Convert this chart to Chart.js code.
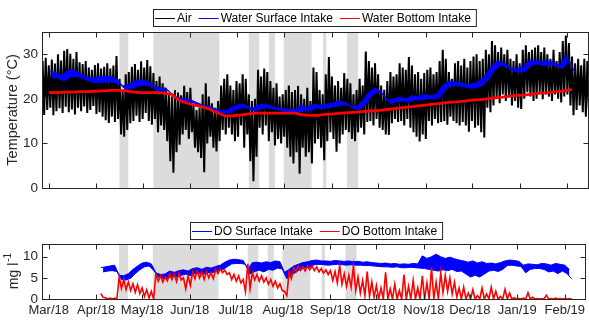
<!DOCTYPE html>
<html>
<head>
<meta charset="utf-8">
<script src="https://cdn.jsdelivr.net/npm/chart.js@4/dist/chart.umd.min.js"></script>
<style>
body { margin: 0; background: #fff; overflow: hidden; }
#wrap { position: relative; width: 589px; height: 320px; }
canvas { position: absolute; left: 0; }
</style>
</head>
<body>
<div id="wrap">
  <canvas id="tempChart" width="589" height="200" style="top:0"></canvas>
  <canvas id="doChart" width="589" height="120" style="top:200px"></canvas>
</div>
<script>
// x values are days since 1 Mar 2018
var monthDays = [0, 31, 61, 92, 122, 153, 184, 214, 245, 275, 306, 337];
var monthLabels = ["Mar/18", "Apr/18", "May/18", "Jun/18", "Jul/18", "Aug/18", "Sep/18", "Oct/18", "Nov/18", "Dec/18", "Jan/19", "Feb/19"];
var tempTicks = [0, 10, 20, 30];
var doTicks = [0, 5, 10];

// grey periods (day ranges)
var shadedDays = [[45.9, 51.7], [68, 110.9], [130, 136.8], [143, 147], [152.7, 170.8], [178.2, 180.4], [193.8, 201]];

// air temperature, daily highs / lows per 2-day bin starting day -4
var airStart = -4, airStep = 2;
var airHi = [
    28.5, 29.2, 27.5, 28.8, 27.9, 30.0, 28.6, 30.8, 31.2, 30.1,
    29.0, 30.5, 28.2, 27.8, 28.5, 27.0, 26.5, 27.6, 28.0, 26.8,
    27.2, 28.0, 26.8, 27.5, 29.6, 24.5, 22.0, 25.5, 26.0, 27.2,
    27.8, 26.5, 28.4, 27.0, 28.7, 27.3, 25.8, 24.0, 25.0, 23.5,
    22.5, 21.0, 20.5, 22.0, 21.4, 20.8, 22.9, 21.5, 22.5, 18.5,
    17.5, 18.0, 21.0, 23.5, 20.5, 19.0, 18.0, 19.5, 23.0, 24.5,
    25.5, 23.0, 22.0, 24.0, 23.5, 25.5, 24.5, 21.0, 19.5, 20.0,
    26.5, 25.0, 26.8, 26.0, 24.0, 22.5, 23.5, 20.5, 21.0, 22.0,
    23.0, 21.5, 22.0, 22.9, 21.0, 20.0, 22.5, 19.5, 27.0, 26.0,
    22.0, 21.0, 25.5, 29.4, 25.0, 23.0, 24.0, 22.5, 25.8, 24.5,
    23.5, 21.0, 22.0, 24.5, 23.0, 30.6, 28.5, 27.0, 28.0, 25.5,
    23.0, 22.0, 24.0, 26.0, 25.0, 25.5, 28.0, 27.0, 26.5, 29.4,
    27.5, 25.5, 26.0, 24.5, 25.8, 26.5, 27.0, 25.5, 26.0, 28.5,
    31.0, 29.0, 26.0, 24.5, 28.0, 28.5, 27.5, 29.0, 27.0, 28.5,
    29.5, 30.0, 28.5, 29.0, 31.0, 30.0, 33.0, 32.0, 30.5, 31.5,
    30.0, 31.0, 29.0, 28.5, 30.0, 28.0, 31.0, 32.0, 30.5, 31.0,
    31.5, 32.0, 30.5, 31.5, 30.0, 29.0, 31.0, 28.5, 30.5, 33.0,
    34.2, 32.5, 29.5, 28.0, 29.0, 27.5, 29.0, 28.5
];
var airLo = [
    16.4, 17.5, 18.0, 16.3, 17.2, 17.9, 16.8, 18.2, 17.0, 17.6,
    16.5, 18.0, 17.2, 18.3, 16.8, 17.5, 18.4, 16.6, 17.0, 16.0,
    15.2, 14.6, 16.0, 14.8, 15.5, 12.0, 11.5, 13.0, 14.5, 15.0,
    16.2, 14.8, 15.5, 16.8, 15.0, 14.2, 15.5, 12.5, 14.0, 13.0,
    10.5, 6.0, 3.4, 8.0, 9.7, 12.0, 13.0, 11.0, 12.5, 9.0,
    8.0, 6.7, 3.5, 10.0, 11.5, 9.0, 8.2, 10.5, 13.0, 12.0,
    13.5, 12.0, 10.5, 11.5, 14.0, 9.0, 12.0, 6.0, 1.5, 7.0,
    13.5, 12.0, 14.0, 10.5, 12.5, 9.5, 11.0, 10.0, 11.5, 9.0,
    7.0, 5.5, 8.0, 3.2, 9.0, 7.0, 8.0, 5.5, 10.0, 11.0,
    9.0, 6.2, 10.5, 12.5, 11.0, 8.1, 10.0, 12.0, 13.0, 12.5,
    11.0, 10.5, 12.5, 13.5, 12.0, 14.8, 15.0, 14.0, 15.5, 13.5,
    13.0, 12.0, 11.9, 14.5, 15.5, 14.8, 15.0, 14.0, 15.5, 13.5,
    12.5, 11.5, 10.4, 12.0, 11.0, 15.0, 14.0, 15.5, 14.5, 14.8,
    15.0, 14.2, 16.0, 15.0, 14.5, 14.0, 14.8, 14.0, 12.6, 15.0,
    13.5, 14.0, 12.5, 11.3, 18.0, 17.0, 18.5, 20.0, 19.0, 21.0,
    19.5, 20.5, 18.5, 19.5, 18.0, 17.7, 20.0, 21.5, 20.5, 19.5,
    20.0, 21.5, 19.9, 21.0, 20.5, 19.5, 21.0, 20.0, 19.2, 20.5,
    21.0, 18.5, 16.3, 17.5, 18.5, 17.0, 16.0, 17.5
];

// water surface intake, band top / bottom per 4-day bin from day 0
var surfStart = 0, surfStep = 4;
var surfHi = [
    26.2, 26.0, 25.2, 26.3, 26.5, 25.8, 25.0, 24.7, 24.9, 25.1,
    25.0, 24.5, 22.9, 23.2, 24.0, 24.3, 24.0, 23.0, 22.5, 22.4,
    21.0, 20.3, 20.0, 19.8, 19.2, 18.6, 18.3, 17.8, 17.4, 17.5,
    18.3, 18.8, 18.6, 17.8, 18.6, 18.8, 18.5, 18.0, 17.8, 17.7,
    17.6, 18.6, 18.0, 18.8, 18.5, 18.8, 19.0, 19.5, 19.3, 18.5,
    18.3, 19.6, 21.5, 22.4, 21.6, 19.5, 20.0, 20.3, 20.0, 20.7,
    20.5, 21.0, 20.7, 21.0, 23.0, 24.0, 23.8, 23.6, 23.2, 23.4,
    24.0, 25.5, 27.5, 28.5, 28.0, 27.0, 26.8, 27.2, 28.5, 28.7,
    28.3, 28.6, 28.2, 27.5, 29.8, 27.0
];
var surfLo = [
    24.8, 24.7, 24.0, 24.9, 25.0, 24.6, 24.0, 23.6, 23.7, 23.8,
    23.7, 23.3, 22.1, 22.3, 22.9, 23.0, 22.9, 22.0, 21.9, 21.8,
    20.2, 19.6, 19.3, 19.1, 18.5, 17.9, 17.6, 17.1, 16.8, 16.9,
    17.6, 18.0, 17.9, 17.2, 17.8, 18.0, 17.8, 17.4, 17.2, 17.0,
    16.9, 17.4, 17.3, 17.9, 17.8, 18.0, 18.3, 18.6, 18.6, 17.8,
    17.6, 18.8, 20.7, 21.6, 20.8, 18.9, 19.3, 19.5, 19.3, 19.8,
    19.7, 20.1, 20.0, 20.2, 22.0, 23.1, 22.9, 22.7, 22.4, 22.5,
    23.0, 24.5, 26.6, 27.5, 27.1, 26.2, 26.0, 26.3, 27.6, 27.8,
    27.4, 27.7, 27.3, 26.8, 28.8, 25.8
];

// water bottom intake, every 5 days from day 0
var bottomStart = 0, bottomStep = 5;
var bottomTemp = [
    21.4, 21.4, 21.5, 21.5, 21.6, 21.6, 21.7, 21.8, 21.9, 21.9,
    21.8, 21.5, 21.4, 21.4, 21.4, 21.3, 21.0, 19.6, 19.0, 18.6,
    18.2, 17.6, 16.8, 16.1, 16.2, 16.4, 16.6, 16.8, 16.8, 16.8,
    16.8, 16.8, 16.8, 16.4, 16.3, 16.3, 16.5, 16.6, 16.8, 16.9,
    17.0, 17.2, 17.3, 17.4, 17.6, 17.8, 18.0, 18.2, 18.4, 18.6,
    18.8, 19.0, 19.2, 19.3, 19.5, 19.7, 19.8, 20.0, 20.2, 20.4,
    20.6, 20.8, 20.9, 21.1, 21.3, 21.4, 21.6, 21.8, 22.1
];

// dissolved oxygen, highs / lows per 3-day bin from day 34
var doStart = 34, doStep = 3;
var doSurfHi = [
    7.4, 7.6, 7.8, 8.0, 5.6, 5.5, 6.0, 7.0, 7.8, 8.5,
    8.7, 8.3, 6.2, 5.8, 5.9, 6.6, 6.3, 6.7, 6.9, 6.6,
    7.2, 7.4, 7.0, 7.5, 7.3, 7.7, 8.0, 8.7, 9.2, 9.4,
    9.3, 9.1, 7.0, 8.6, 8.7, 8.5, 8.8, 8.6, 9.0, 8.8,
    6.3, 7.0, 7.8, 8.2, 8.6, 8.8, 9.1, 9.2, 9.0, 9.0,
    8.9, 9.1, 9.0, 8.9, 9.0, 8.8, 8.9, 8.7, 8.8, 8.6,
    8.5, 8.4, 8.5, 8.3, 8.4, 8.2, 8.3, 8.2, 8.4, 8.3,
    10.2, 9.6, 10.0, 10.6, 10.0, 9.6, 9.9, 9.5, 9.2, 9.0,
    8.7, 9.0, 8.5, 8.8, 8.4, 8.5, 8.3, 8.6, 9.0, 9.2,
    9.1, 8.9, 8.0, 8.3, 8.2, 8.1, 8.4, 8.3, 8.0, 8.4,
    8.2, 8.0, 7.0
];
var doSurfLo = [
    6.4, 6.6, 6.7, 6.5, 4.6, 4.5, 4.9, 6.0, 6.9, 7.6,
    7.8, 6.8, 5.2, 4.9, 4.8, 5.4, 5.2, 5.6, 5.9, 5.5,
    6.0, 6.1, 5.9, 6.2, 6.3, 6.6, 6.9, 7.6, 8.3, 8.4,
    8.4, 8.2, 5.9, 6.5, 6.8, 6.4, 7.0, 6.8, 7.3, 7.1,
    4.8, 5.6, 6.4, 7.0, 7.4, 7.5, 8.1, 8.2, 8.1, 8.0,
    8.1, 8.2, 8.1, 8.0, 8.1, 8.0, 8.0, 7.9, 7.9, 7.8,
    7.7, 7.6, 7.6, 7.5, 7.6, 7.4, 7.4, 7.5, 7.4, 7.3,
    7.2, 7.0, 6.8, 6.6, 6.9, 6.7, 7.0, 6.5, 6.6, 5.9,
    5.2, 5.6, 5.2, 5.9, 6.6, 6.8, 6.5, 7.0, 7.9, 8.0,
    7.8, 7.7, 6.2, 7.0, 7.2, 7.2, 7.0, 6.4, 6.6, 6.0,
    6.6, 6.0, 4.8
];
var doBotHi = [
    1.3, 0.3, 0.2, 0.2, 5.2, 4.6, 4.0, 3.6, 3.4, 2.6,
    2.2, 1.8, 5.9, 5.5, 5.2, 6.0, 5.9, 6.2, 5.0, 5.4,
    6.4, 6.7, 6.3, 6.5, 6.2, 7.0, 7.1, 6.8, 6.2, 5.8,
    5.5, 4.6, 8.3, 6.2, 5.8, 5.5, 5.0, 4.6, 4.2, 3.6,
    1.8, 6.4, 7.4, 7.7, 7.6, 7.8, 7.8, 7.6, 7.2, 6.9,
    6.7, 6.5, 8.0, 6.0, 5.6, 7.8, 5.2, 4.4, 6.5, 4.0,
    3.2, 2.6, 6.3, 2.4, 3.5, 2.0, 5.8, 3.0, 4.4, 2.6,
    5.5, 3.8, 7.5, 4.0, 6.2, 5.6, 5.0, 4.0, 2.6, 2.8,
    1.4, 2.2, 0.8, 2.6, 1.2, 2.8, 1.8, 0.6, 2.3, 1.4,
    0.3, 0.1, 0.2, 1.5, 0.4, 0.1, 0.1, 0.9, 0.1, 0.2,
    0.1, 0.1, 0.1
];
var doBotLo = [
    0.4, 0.0, 0.0, 0.0, 2.5, 2.2, 2.0, 1.6, 1.3, 0.6,
    0.2, 0.0, 4.2, 4.0, 4.3, 4.6, 4.1, 4.5, 2.4, 3.2,
    4.8, 5.0, 4.6, 5.0, 4.8, 6.0, 6.2, 5.8, 4.6, 4.2,
    3.8, 1.7, 2.5, 4.5, 4.2, 4.0, 3.5, 3.0, 2.6, 2.0,
    0.8, 4.8, 6.4, 6.8, 6.6, 6.9, 6.7, 6.4, 6.1, 5.8,
    4.4, 3.8, 3.5, 3.0, 2.8, 2.0, 1.4, 0.8, 0.6, 0.4,
    0, 0, 0, 0, 0, 0, 0, 0, 0, 0,
    0, 0, 0, 0, 1.5, 1.8, 1.2, 0.5, 0, 0,
    0, 0, 0, 0, 0, 0, 0, 0, 0, 0,
    0, 0, 0, 0, 0, 0, 0, 0, 0, 0,
    0, 0, 0
];

var fontFamily = '"Liberation Sans", Arial, Helvetica, sans-serif';
var axisColor = '#262626';

function series(start, step, vals, shift) {
    return vals.map(function(v, i) { return {x: start + i * step + (shift || 0), y: v}; });
}

// highs and lows joined into one trace: hi, lo, hi, lo ...
function zigzag(start, step, hi, lo) {
    var pts = [];
    for (var i = 0; i < hi.length; i++) {
        pts.push({x: start + i * step, y: hi[i]});
        pts.push({x: start + i * step + step / 2, y: lo[i]});
    }
    return pts;
}

// two datasets, upper edge filled down to lower edge
function band(label, start, step, hi, lo, color, order) {
    return [{
        label: label,
        data: series(start, step, hi),
        borderColor: color,
        backgroundColor: color,
        borderWidth: 1,
        fill: '+1',
        order: order
    }, {
        label: label + ' low',
        data: series(start, step, lo, step / 2),
        borderColor: color,
        borderWidth: 1,
        fill: false,
        order: order
    }];
}

function drawLegend(ctx, lg) {
    ctx.save();
    ctx.font = '12px ' + fontFamily;
    var h = 17, mid = lg.top + h / 2;
    var widths = lg.items.map(function(it) { return ctx.measureText(it.label).width; });
    var total = 2;
    widths.forEach(function(w, i) { total += 22 + w + (i < widths.length - 1 ? 7 : 5); });
    ctx.fillStyle = '#fff';
    ctx.fillRect(lg.left, lg.top, total, h);
    ctx.strokeStyle = axisColor;
    ctx.lineWidth = 1;
    ctx.strokeRect(lg.left + 0.5, lg.top + 0.5, total, h);
    var x = lg.left + 2;
    lg.items.forEach(function(it, i) {
        ctx.strokeStyle = it.color;
        ctx.beginPath();
        ctx.moveTo(x, Math.round(mid) + 0.5);
        ctx.lineTo(x + 20, Math.round(mid) + 0.5);
        ctx.stroke();
        x += 22;
        ctx.fillStyle = '#000';
        ctx.textBaseline = 'middle';
        ctx.textAlign = 'left';
        ctx.fillText(it.label, x, mid + 1);
        x += widths[i] + 7;
    });
    ctx.restore();
}

function drawYTitle(ctx, area, t) {
    ctx.save();
    ctx.translate(t.x, (area.top + area.bottom) / 2);
    ctx.rotate(-Math.PI / 2);
    ctx.fillStyle = axisColor;
    ctx.textBaseline = 'middle';
    ctx.textAlign = 'left';
    ctx.font = t.size + 'px ' + fontFamily;
    var w1 = ctx.measureText(t.text).width, w2 = 0;
    if (t.sup) {
        ctx.font = '10px ' + fontFamily;
        w2 = ctx.measureText(t.sup).width;
    }
    var x0 = -(w1 + w2) / 2;
    ctx.font = t.size + 'px ' + fontFamily;
    ctx.fillText(t.text, x0, 0);
    if (t.sup) {
        ctx.font = '10px ' + fontFamily;
        ctx.fillText(t.sup, x0 + w1 + 1, -6);
    }
    ctx.restore();
}

var panelDecor = {
    id: 'panelDecor',
    beforeDatasetsDraw: function(chart) {
        var ctx = chart.ctx, a = chart.chartArea, xs = chart.scales.x;
        ctx.save();
        ctx.fillStyle = '#dcdcdc';
        shadedDays.forEach(function(r) {
            var p0 = Math.max(xs.getPixelForValue(r[0]), a.left);
            var p1 = Math.min(xs.getPixelForValue(r[1]), a.right);
            ctx.fillRect(p0, a.top, p1 - p0, a.bottom - a.top);
        });
        ctx.restore();
    },
    afterDraw: function(chart, args, opts) {
        var ctx = chart.ctx, a = chart.chartArea;
        var L = Math.round(a.left) + 0.5, R = Math.round(a.right) + 0.5;
        var T = Math.round(a.top) + 0.5, B = Math.round(a.bottom) + 0.5;
        var tl = 5;
        ctx.save();
        ctx.strokeStyle = axisColor;
        ctx.lineWidth = 1;
        ctx.strokeRect(L, T, R - L, B - T);
        ctx.beginPath();
        chart.scales.x.ticks.forEach(function(t) {
            var px = Math.round(chart.scales.x.getPixelForValue(t.value)) + 0.5;
            ctx.moveTo(px, B); ctx.lineTo(px, B - tl);
            ctx.moveTo(px, T); ctx.lineTo(px, T + tl);
        });
        chart.scales.y.ticks.forEach(function(t) {
            var py = Math.round(chart.scales.y.getPixelForValue(t.value)) + 0.5;
            ctx.moveTo(L, py); ctx.lineTo(L + tl, py);
            ctx.moveTo(R, py); ctx.lineTo(R - tl, py);
        });
        ctx.stroke();
        ctx.restore();
        drawYTitle(ctx, a, opts.yTitle);
        drawLegend(ctx, opts.legend);
    }
};

function panelOptions(cfg) {
    return {
        responsive: false,
        animation: false,
        events: [],
        layout: {padding: {top: cfg.padTop, right: 1, left: 0, bottom: 0}},
        elements: {point: {radius: 0}, line: {tension: 0}},
        scales: {
            x: {
                type: 'linear',
                min: -4.4,
                max: 350.4,
                grid: {display: false, drawTicks: false},
                border: {display: false},
                afterBuildTicks: function(s) {
                    s.ticks = monthDays.map(function(d) { return {value: d}; });
                },
                afterFit: function(s) { s.height = cfg.xHeight; },
                ticks: {
                    display: cfg.xLabels,
                    autoSkip: false,
                    maxRotation: 0,
                    padding: 4,
                    color: axisColor,
                    font: {family: fontFamily, size: 13},
                    callback: function(v, i) { return monthLabels[i]; }
                }
            },
            y: {
                min: 0,
                max: cfg.yMax,
                grid: {display: false, drawTicks: false},
                border: {display: false},
                afterBuildTicks: function(s) {
                    s.ticks = cfg.yTicks.map(function(v) { return {value: v}; });
                },
                afterFit: function(s) { s.width = 42; },
                ticks: {
                    padding: 4,
                    color: axisColor,
                    font: {family: fontFamily, size: 13.5}
                }
            }
        },
        plugins: {
            legend: {display: false},
            tooltip: {enabled: false},
            filler: {propagate: false},
            panelDecor: {yTitle: cfg.yTitle, legend: cfg.legend}
        }
    };
}

var tempSets = [{
        label: 'Air',
        data: zigzag(airStart, airStep, airHi, airLo),
        borderColor: '#000000',
        borderWidth: 2,
        fill: false,
        order: 5
    }]
    .concat(band('Water Surface Intake', surfStart, surfStep, surfHi, surfLo, '#0000ff', 3))
    .concat([{
        label: 'Water Bottom Intake',
        data: series(bottomStart, bottomStep, bottomTemp),
        borderColor: '#ff0000',
        borderWidth: 2.8,
        fill: false,
        order: 1
    }]);

var tempChart = new Chart(document.getElementById('tempChart').getContext('2d'), {
    type: 'line',
    data: {datasets: tempSets},
    options: panelOptions({
        padTop: 32, xHeight: 8, xLabels: false, yMax: 35, yTicks: tempTicks,
        yTitle: {text: 'Temperature (°C)', size: 14.5, x: 13},
        legend: {left: 153, top: 9, items: [
            {label: 'Air', color: '#000000'},
            {label: 'Water Surface Intake', color: '#0000ff'},
            {label: 'Water Bottom Intake', color: '#ff0000'}
        ]}
    }),
    plugins: [panelDecor]
});

var doSets = band('DO Surface Intake', doStart, doStep, doSurfHi, doSurfLo, '#0000ff', 3)
    .concat([{
        label: 'DO Bottom Intake',
        data: zigzag(doStart, doStep, doBotHi, doBotLo),
        borderColor: '#ff0000',
        borderWidth: 1.6,
        fill: false,
        order: 1
    }]);

var doChart = new Chart(document.getElementById('doChart').getContext('2d'), {
    type: 'line',
    data: {datasets: doSets},
    options: panelOptions({
        padTop: 44, xHeight: 21, xLabels: true, yMax: 13, yTicks: doTicks,
        yTitle: {text: 'mg l', sup: '-1', size: 14, x: 14},
        legend: {left: 190, top: 22, items: [
            {label: 'DO Surface Intake', color: '#0000ff'},
            {label: 'DO Bottom Intake', color: '#ff0000'}
        ]}
    }),
    plugins: [panelDecor]
});
</script>
</body>
</html>
